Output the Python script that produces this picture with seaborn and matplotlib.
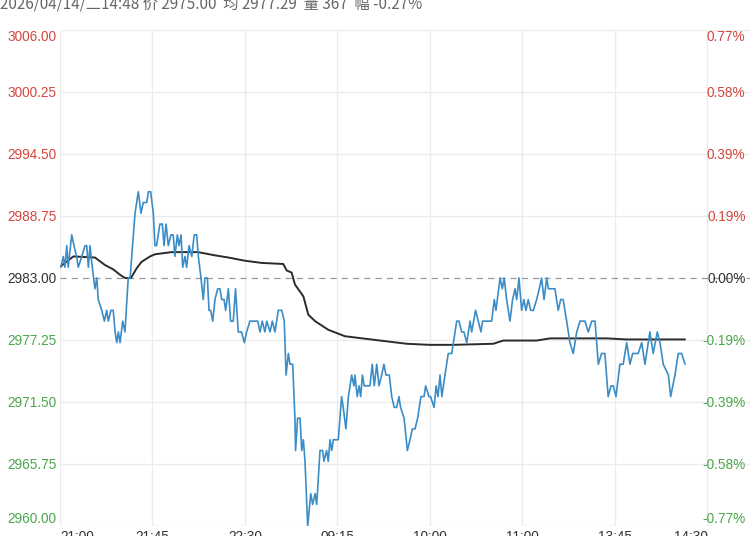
import matplotlib
matplotlib.use("Agg")
import matplotlib.pyplot as plt
import seaborn as sns
import pandas as pd

# ---------------- data ----------------
header = "2026/04/14/二14:48 价 2975.00  均 2977.29  量 367  幅 -0.27%"
base_price = 2983.00

price_minutes = [
    0.5, 1.6, 2.4, 3.3, 4.0, 5.7, 6.8, 8.1, 8.9, 10.6, 12.2, 13.0, 13.8, 14.6, 15.7,
    17.0, 17.9, 18.6, 20.3, 21.6, 22.7, 23.5, 24.8, 25.9, 26.8, 27.6, 28.4, 29.2, 30.5,
    31.6, 33.2, 34.1, 36.5, 38.1, 39.4, 40.5, 42.2, 43.0, 44.1, 45.4, 46.2, 47.0, 48.6,
    49.8, 50.6, 51.6, 52.7, 54.0, 55.1, 55.9, 57.1, 57.9, 58.9, 59.7, 60.8, 61.6, 62.8,
    64.1, 65.3, 66.5, 67.3, 68.6, 69.7, 70.5, 71.7, 72.5, 73.3, 74.3, 75.4, 76.7, 77.8,
    78.7, 79.8, 80.6, 81.9, 83.0, 84.3, 85.4, 86.7, 88.3, 89.7, 90.8, 92.4, 94.0, 94.9,
    96.2, 97.3, 98.4, 99.7, 100.6, 102.2, 103.3, 104.6, 106.2, 107.9, 109.1, 110.0,
    111.1, 111.9, 113.2, 114.3, 114.6, 115.6, 116.8, 117.6, 118.4, 119.2, 120.5, 122.0,
    122.9, 124.1, 124.9, 126.5, 127.8, 128.4, 129.7, 130.5, 131.4, 132.2, 133.0, 135.4,
    137.0, 137.8, 139.1, 140.3, 141.9, 143.0, 143.5, 144.6, 145.5, 146.3, 147.1, 148.0,
    149.2, 150.8, 151.9, 152.9, 154.1, 155.2, 156.5, 157.6, 158.6, 160.2, 161.4, 162.6,
    163.8, 164.9, 165.7, 167.4, 169.0, 170.3, 171.4, 172.7, 174.0, 175.6, 177.1, 177.9,
    179.5, 180.3, 182.0, 183.0, 183.9, 184.9, 185.8, 187.3, 188.9, 190.6, 192.2, 193.0,
    194.1, 195.4, 196.5, 197.9, 199.5, 200.3, 202.2, 203.5, 204.8, 205.6, 210.0, 211.3,
    212.1, 214.1, 215.2, 216.1, 217.3, 218.9, 220.2, 221.4, 222.2, 223.3, 224.6, 225.7,
    226.7, 227.8, 229.0, 230.3, 231.9, 233.2, 234.3, 235.5, 236.8, 237.6, 240.8, 242.4,
    243.6, 244.8, 246.5, 248.1, 249.7, 251.4, 253.0, 255.4, 257.0, 258.7, 260.3, 261.9,
    263.5, 265.1, 266.7, 268.1, 269.2, 270.5, 272.4, 274.0, 275.7, 277.3, 278.6, 281.3,
    283.0, 284.6, 287.0, 288.6, 290.6, 291.9, 293.5, 296.0, 297.1, 299.2, 300.8, 302.4,
    304.1,
]
prices = [
    2984, 2985, 2984, 2986, 2984, 2987, 2986, 2985, 2984, 2985, 2986, 2986, 2984, 2986, 2984,
    2982, 2983, 2981, 2980, 2979, 2980, 2979, 2980, 2980, 2978, 2977, 2978, 2977, 2979,
    2978, 2983, 2983, 2989, 2991, 2989, 2990, 2990, 2991, 2991, 2989, 2986, 2986, 2988,
    2988, 2986, 2988, 2986, 2987, 2987, 2985, 2987, 2986, 2987, 2984, 2985, 2984, 2986,
    2985, 2987, 2987, 2985, 2983, 2981, 2983, 2983, 2980, 2980, 2979, 2981, 2982, 2982,
    2981, 2981, 2980, 2982, 2979, 2979, 2982, 2978, 2978, 2977, 2978, 2979, 2979, 2979,
    2979, 2978, 2979, 2978, 2979, 2978, 2979, 2978, 2980, 2980, 2979, 2974,
    2976, 2975, 2975, 2970, 2967, 2970, 2970, 2967, 2968, 2966, 2960, 2963,
    2962, 2963, 2962, 2967, 2967, 2966, 2967, 2966, 2968, 2967, 2968, 2968,
    2972, 2971, 2969, 2972, 2974, 2973, 2974, 2972, 2973, 2972, 2974, 2973,
    2973, 2973, 2975, 2973, 2975, 2973, 2974, 2975, 2974, 2974, 2972, 2971,
    2971, 2972, 2971, 2970, 2967, 2968, 2969, 2969, 2970, 2972, 2972, 2973,
    2972, 2972, 2971, 2973, 2972, 2974, 2972, 2974, 2976, 2976, 2978, 2979,
    2979, 2978, 2978, 2977, 2979, 2978, 2980, 2979, 2978, 2979, 2979, 2981,
    2980, 2983, 2982, 2983, 2981, 2979, 2981, 2982, 2981, 2983, 2980, 2981,
    2980, 2981, 2980, 2980, 2981, 2982, 2983, 2981, 2983, 2982, 2982, 2980,
    2981, 2981, 2979, 2977, 2976, 2978, 2979, 2979, 2978, 2979, 2979, 2975,
    2976, 2976, 2972, 2973, 2973, 2972, 2975, 2975, 2977, 2975, 2976, 2976,
    2977, 2975, 2978, 2976, 2978, 2977, 2975, 2974, 2972, 2974, 2976, 2976,
    2975,
]

avg_minutes = [
    0.5, 6.5, 17.0, 21.9, 25.9, 29.2, 31.6, 34.5, 37.3, 39.7, 43.8, 46.2, 54.3, 67.1,
    75.4, 81.9, 90.0, 98.1, 108.6, 110.3, 112.7, 114.3, 118.4, 120.8, 124.1, 130.5,
    138.6, 155.7, 168.7, 180.0, 191.2, 210.8, 215.7, 231.9, 238.4, 266.0, 275.7, 304.1,
]
avg_prices = [
    2984.1, 2985.0, 2984.9, 2984.2, 2983.8, 2983.3, 2983.0, 2983.0, 2983.9, 2984.5,
    2985.0, 2985.2, 2985.4, 2985.4, 2985.1, 2984.9, 2984.6, 2984.4, 2984.3, 2983.7,
    2983.5, 2982.4, 2981.3, 2979.6, 2979.0, 2978.2, 2977.6, 2977.2, 2976.9, 2976.8,
    2976.8, 2976.9, 2977.2, 2977.2, 2977.4, 2977.4, 2977.3, 2977.3,
]

y_ticks = [3006.00, 3000.25, 2994.50, 2988.75, 2983.00, 2977.25, 2971.50, 2965.75, 2960.00]
y_labels = ["3006.00", "3000.25", "2994.50", "2988.75", "2983.00",
            "2977.25", "2971.50", "2965.75", "2960.00"]
pct_labels = ["0.77%", "0.58%", "0.39%", "0.19%", "0.00%",
              "-0.19%", "-0.39%", "-0.58%", "-0.77%"]

x_ticks = [0, 45, 90, 135, 180, 225, 270, 315]
x_labels = ["21:00", "21:45", "22:30", "09:15", "10:00", "11:00", "13:45", "14:30"]
x_range = (0, 335.7)

# ---------------- style ----------------
sns.set_style("white")
plt.rcParams["font.family"] = ["Liberation Sans", "Noto Sans CJK SC", "DejaVu Sans"]

RED = "#d4463e"
GREEN = "#4ba64b"
DARK = "#333333"
BLUE = "#3a8dc6"
GRID = "#ececec"

fig = plt.figure(figsize=(7.5, 5.36), dpi=100)
ax = fig.add_axes([60 / 750, 10 / 536, 690 / 750, 496 / 536])

price_df = pd.DataFrame({"minute": price_minutes, "price": prices})
avg_df = pd.DataFrame({"minute": avg_minutes, "price": avg_prices})

# grid
for t in x_ticks:
    ax.axvline(t, color=GRID, lw=1.0, zorder=0)
for v in y_ticks:
    if v != base_price:
        ax.axhline(v, color=GRID, lw=1.0, zorder=0)
ax.axhline(base_price, color="#9a9a9a", lw=0.9, ls=(0, (5, 4)), zorder=1)

sns.lineplot(data=avg_df, x="minute", y="price", ax=ax, color="#2b2b2b",
             linewidth=1.4, estimator=None, sort=False, zorder=3)
sns.lineplot(data=price_df, x="minute", y="price", ax=ax, color=BLUE,
             linewidth=1.2, estimator=None, sort=False, zorder=4)

ax.set_xlim(*x_range)
ax.set_ylim(y_ticks[-1], y_ticks[0])
ax.set_xlabel("")
ax.set_ylabel("")
for s in ax.spines.values():
    s.set_visible(False)

ax.set_yticks(y_ticks)
ax.set_yticklabels(y_labels, fontsize=9.8)
ax.tick_params(axis="y", length=0, pad=2.5)
ax.set_xticks(x_ticks)
ax.set_xticklabels(x_labels, fontsize=9.8, color="#333333")
ax.tick_params(axis="x", length=0, pad=3)

n = len(y_ticks)
for i, lab in enumerate(ax.get_yticklabels()):
    v = y_ticks[i]
    col = RED if v > base_price else (GREEN if v < base_price else DARK)
    lab.set_color(col)
    if i == 0:
        lab.set_va("top")
    elif i == n - 1:
        lab.set_va("bottom")

xl = ax.get_xticklabels()
xl[0].set_ha("left")
xl[-1].set_ha("right")

ytrans = ax.get_yaxis_transform()
for i, (v, txt) in enumerate(zip(y_ticks, pct_labels)):
    col = RED if v > base_price else (GREEN if v < base_price else DARK)
    va = "top" if i == 0 else ("bottom" if i == n - 1 else "center_baseline")
    ax.text(0.9935, v, txt, transform=ytrans, ha="right", va=va,
            fontsize=9.8, color=col, zorder=5)

fig.text(0.0, 1 - 8.5 / 536, header, ha="left", va="baseline",
         fontsize=11, color="#666666",
         family=["Noto Sans CJK SC", "DejaVu Sans"])

fig.savefig("out.png", dpi=100)
